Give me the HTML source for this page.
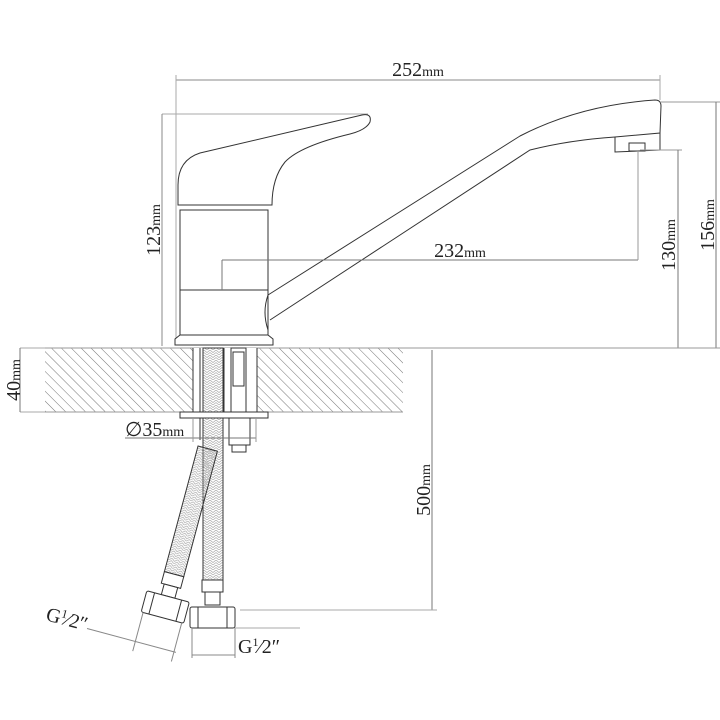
<!DOCTYPE html>
<html><head><meta charset="utf-8"><style>
html,body{margin:0;padding:0;background:#fff;}
svg{display:block;}
text{font-family:"Liberation Serif",serif;fill:#222;}
</style></head><body>
<svg width="720" height="720" viewBox="0 0 720 720" xmlns="http://www.w3.org/2000/svg">
<defs>
<pattern id="hatch" width="7" height="7" patternUnits="userSpaceOnUse" patternTransform="rotate(-45)">
<line x1="0" y1="0" x2="0" y2="7" stroke="#666" stroke-width="0.9"/>
</pattern>
<pattern id="braid" width="6" height="5" patternUnits="userSpaceOnUse">
<path d="M0 0 L3 2.5 L6 0 M0 2.5 L3 5 L6 2.5" fill="none" stroke="#aaa" stroke-width="0.7"/>
</pattern>
</defs>
<g fill="none" stroke="#333" stroke-width="1">
<line x1="176" y1="80" x2="660" y2="80" stroke="#888"/>
<line x1="176" y1="75" x2="176" y2="345" stroke="#aaa"/>
<line x1="660" y1="75" x2="660" y2="100" stroke="#aaa"/>
<line x1="162" y1="114" x2="368" y2="114" stroke="#aaa"/>
<line x1="162" y1="114" x2="162" y2="346" stroke="#888"/>
<path d="M178 205 L178 185 Q178 160 200 153 L362 115 Q372 113 370 122 Q366 130 350 134 Q300 146 285 162 Q272 178 272 205 Z" fill="#fff"/>
<line x1="183" y1="205" x2="268" y2="205"/>
<rect x="180" y="210" width="88" height="125" fill="#fff"/>
<line x1="180" y1="290" x2="268" y2="290"/>
<path d="M268 295 Q262 312 268 330" />
<path d="M175 345 L175 339 L180 335 L268 335 L273 339 L273 345 Z" fill="#fff"/>
<path d="M268 295 L520 136 Q580 105 655 100 Q661 100 661 106 L660 133 L615 137 Q570 140 530 150 L270 320"/>
<path d="M615 137 L615 152 L660 150 L660 133"/>
<rect x="629" y="143" width="16" height="8"/>
<line x1="222" y1="260" x2="638" y2="260" stroke="#777"/>
<line x1="222" y1="260" x2="222" y2="290" stroke="#777"/>
<line x1="638" y1="152" x2="638" y2="260" stroke="#999"/>
<line x1="640" y1="150" x2="682" y2="150" stroke="#999"/>
<line x1="678" y1="150" x2="678" y2="348" stroke="#777"/>
<line x1="660" y1="102" x2="720" y2="102" stroke="#999"/>
<line x1="716" y1="102" x2="716" y2="348" stroke="#777"/>
<line x1="400" y1="348" x2="720" y2="348" stroke="#999"/>
<rect x="45" y="348" width="358" height="64" fill="url(#hatch)" stroke="none"/>
<line x1="45" y1="348" x2="403" y2="348" stroke="#999"/>
<line x1="45" y1="412" x2="403" y2="412" stroke="#999"/>
<rect x="193" y="348" width="64" height="64" fill="#fff" stroke="none"/>
<line x1="193" y1="348" x2="193" y2="412"/>
<line x1="257" y1="348" x2="257" y2="412"/>
<line x1="200" y1="348" x2="200" y2="440"/>
<rect x="203" y="348" width="20" height="232" fill="url(#braid)"/>
<line x1="224" y1="348" x2="224" y2="412"/>
<rect x="231" y="348" width="15" height="70" fill="#fff"/>
<rect x="233" y="352" width="11" height="34"/>
<rect x="180" y="412" width="88" height="6" fill="#fff"/>
<rect x="229" y="418" width="21" height="27" fill="#fff"/>
<rect x="232" y="445" width="14" height="7" fill="#fff"/>
<line x1="20" y1="348" x2="45" y2="348" stroke="#aaa"/>
<line x1="20" y1="412" x2="45" y2="412" stroke="#aaa"/>
<line x1="20" y1="348" x2="20" y2="412" stroke="#777"/>
<line x1="125" y1="438" x2="256" y2="438" stroke="#777"/>
<line x1="193" y1="418" x2="193" y2="442" stroke="#999"/>
<line x1="256" y1="418" x2="256" y2="442" stroke="#999"/>
<line x1="432" y1="350" x2="432" y2="610" stroke="#777"/>
<line x1="240" y1="610" x2="437" y2="610" stroke="#aaa"/>
<rect x="202" y="580" width="21" height="12" fill="#fff"/>
<rect x="205" y="592" width="15" height="13" fill="#fff"/>
<rect x="190" y="607" width="45" height="21" fill="#fff" rx="2"/>
<line x1="198" y1="607" x2="198" y2="628"/>
<line x1="227" y1="607" x2="227" y2="628"/>
<line x1="192" y1="628" x2="192" y2="658" stroke="#888"/>
<line x1="235" y1="628" x2="235" y2="658" stroke="#888"/>
<line x1="192" y1="655" x2="235" y2="655" stroke="#888"/>
<line x1="235" y1="628" x2="300" y2="628" stroke="#aaa"/>
<g transform="translate(165,608) rotate(15)">
<rect x="-10" y="-165" width="20" height="130" fill="url(#braid)"/>
<rect x="-10" y="-35" width="20" height="12" fill="#fff"/>
<rect x="-7" y="-23" width="14" height="11" fill="#fff"/>
<rect x="-22" y="-12" width="44" height="22" fill="#fff" rx="2"/>
<line x1="-14" y1="-12" x2="-14" y2="10"/>
<line x1="14" y1="-12" x2="14" y2="10"/>
<line x1="-20" y1="10" x2="-20" y2="50" stroke="#888"/>
<line x1="20" y1="10" x2="20" y2="50" stroke="#888"/>
<line x1="-70" y1="40" x2="22" y2="40" stroke="#888"/>
</g>
</g>
<text x="418" y="76" font-size="20" text-anchor="middle">252<tspan font-size="14">mm</tspan></text>
<text x="460" y="257" font-size="20" text-anchor="middle">232<tspan font-size="14">mm</tspan></text>
<text transform="translate(160,230) rotate(-90)" font-size="20" text-anchor="middle">123<tspan font-size="14">mm</tspan></text>
<text transform="translate(675,245) rotate(-90)" font-size="20" text-anchor="middle">130<tspan font-size="14">mm</tspan></text>
<text transform="translate(714,225) rotate(-90)" font-size="20" text-anchor="middle">156<tspan font-size="14">mm</tspan></text>
<text transform="translate(20,380) rotate(-90)" font-size="20" text-anchor="middle">40<tspan font-size="14">mm</tspan></text>
<text transform="translate(430,490) rotate(-90)" font-size="20" text-anchor="middle">500<tspan font-size="14">mm</tspan></text>
<text x="125" y="436" font-size="20">∅35<tspan font-size="14">mm</tspan></text>
<text x="238" y="653" font-size="20">G<tspan font-size="12" dy="-7">1</tspan><tspan dy="7">⁄2″</tspan></text>
<text transform="translate(45,620) rotate(15)" font-size="20">G<tspan font-size="12" dy="-7">1</tspan><tspan dy="7">⁄2″</tspan></text>
</svg>
</body></html>
